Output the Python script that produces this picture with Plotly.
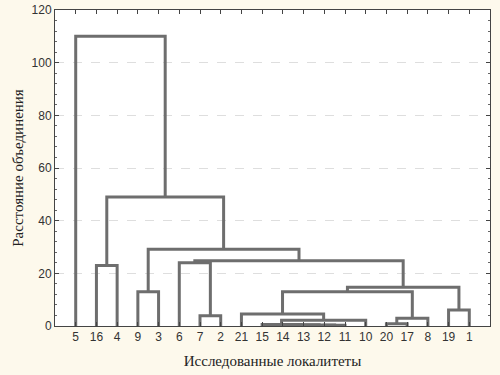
import plotly.graph_objects as go

LEAF_LABELS = ["5", "16", "4", "9", "3", "6", "7", "2", "21", "15", "14", "13",
               "12", "11", "10", "20", "17", "8", "19", "1"]

# merges: (left child, right child, joining distance); children are leaf labels or merge names
MERGE_NAMES = ["m1", "m2", "m3", "m4", "m5", "m6", "m7", "m8", "m9", "m10",
               "m11", "m12", "m13", "m14", "m15", "m16", "m17", "m18", "m19"]
MERGE_LEFT = ["12", "13", "14", "15", "m4", "21", "20", "m7", "19", "7",
              "9", "16", "m6", "m13", "6", "m15", "m11", "m12", "5"]
MERGE_RIGHT = ["11", "m1", "m2", "m3", "10", "m5", "17", "8", "1", "2",
               "3", "4", "m8", "m9", "m10", "m14", "m16", "m17", "m18"]
MERGE_DIST = [0.3, 0.4, 0.5, 0.6, 2.2, 4.6, 0.9, 2.9, 6.1, 3.9,
              13.0, 23.0, 13.0, 14.7, 24.0, 24.8, 29.1, 49.0, 110.0]

pos = {lab: i + 1 for i, lab in enumerate(LEAF_LABELS)}
hgt = {lab: 0.0 for lab in LEAF_LABELS}
xs, ys = [], []
for name, a, b, d in zip(MERGE_NAMES, MERGE_LEFT, MERGE_RIGHT, MERGE_DIST):
    xa, xb = pos[a], pos[b]
    xs += [xa, xa, xb, xb, None]
    ys += [hgt[a], d, d, hgt[b], None]
    pos[name] = (xa + xb) / 2
    hgt[name] = d

fig = go.Figure()
fig.add_trace(go.Scatter(x=xs, y=ys, mode="lines",
                         line=dict(color="#6e6e6e", width=3),
                         hoverinfo="skip", showlegend=False))

fig.update_layout(
    width=500, height=375,
    margin=dict(l=55, r=10, t=10, b=49),
    paper_bgcolor="#fdf9ec",
    plot_bgcolor="#ffffff",
    font=dict(family="Liberation Sans, Arial, sans-serif", size=12, color="#333333"),
)
fig.update_xaxes(
    automargin=False,
    range=[0, len(LEAF_LABELS) + 1],
    tickvals=list(range(1, len(LEAF_LABELS) + 1)),
    ticktext=LEAF_LABELS,
    showgrid=False, zeroline=False,
    showline=True, linecolor="#444444", linewidth=1, mirror="ticks",
    ticks="inside", ticklen=4, tickcolor="#444444",
    title=dict(text="Исследованные локалитеты",
               font=dict(family="Liberation Serif, Times New Roman, serif", size=15, color="#222222"),
               standoff=12),
)
fig.update_yaxes(
    automargin=False,
    range=[0, 120],
    tickvals=[0, 20, 40, 60, 80, 100, 120],
    showgrid=True, gridcolor="#dedede", griddash="dash", gridwidth=1,
    zeroline=False,
    showline=True, linecolor="#444444", linewidth=1, mirror="ticks",
    ticks="inside", ticklen=4, tickcolor="#444444",
    minor=dict(dtick=4, ticks="inside", ticklen=2, tickcolor="#666666", showgrid=False),
    title=dict(text="Расстояние объединения",
               font=dict(family="Liberation Serif, Times New Roman, serif", size=15, color="#222222"),
               standoff=4),
)

fig.write_html(
    "out.html",
    config={"displayModeBar": False},
    post_script="document.body.style.margin='0';document.body.style.background='#fdf9ec';",
)
